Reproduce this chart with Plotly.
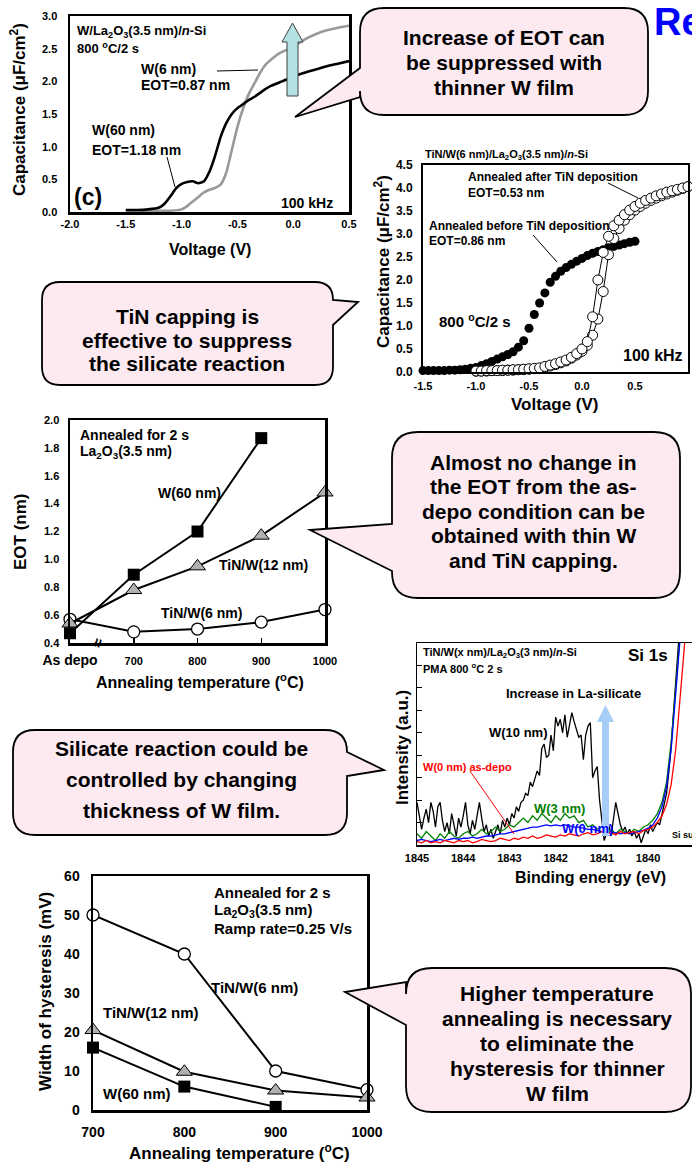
import plotly.graph_objects as go

W, H = 692, 1162
FONT = "Liberation Sans"

# ---------------- Panel (c): C-V, W thickness ----------------
cv1_v_w60 = [-1.50, -1.40, -1.30, -1.20, -1.15, -1.10, -1.05, -1.00,
             -0.95, -0.90, -0.85, -0.80, -0.75, -0.70, -0.65, -0.60, -0.55, -0.50,
             -0.45, -0.40, -0.35, -0.30, -0.25, -0.20,
             -0.10, 0.00, 0.10, 0.20, 0.30, 0.40, 0.50]
cv1_c_w60 = [0.03, 0.03, 0.04, 0.07, 0.13, 0.24, 0.36, 0.43,
             0.46, 0.47, 0.44, 0.47, 0.62, 0.86, 1.15, 1.36, 1.50, 1.59,
             1.65, 1.71, 1.76, 1.82, 1.88, 1.93,
             2.00, 2.07, 2.13, 2.18, 2.23, 2.27, 2.31]
cv1_v_w6 = [-1.50, -1.30, -1.10, -1.00, -0.95, -0.90, -0.85, -0.80, -0.75, -0.70,
            -0.65, -0.60, -0.55, -0.50, -0.45, -0.40, -0.35, -0.30, -0.25, -0.20,
            -0.15, -0.10, 0.00, 0.10, 0.20, 0.30, 0.40, 0.50]
cv1_c_w6 = [0.02, 0.02, 0.02, 0.04, 0.09, 0.16, 0.23, 0.30, 0.34, 0.37,
            0.42, 0.60, 0.95, 1.30, 1.58, 1.80, 1.96, 2.12, 2.25, 2.33,
            2.40, 2.45, 2.53, 2.64, 2.72, 2.78, 2.82, 2.85]
cv1_xticks = [-2.0, -1.5, -1.0, -0.5, 0.0, 0.5]
cv1_xlabels = ["-2.0", "-1.5", "-1.0", "-0.5", "0.0", "0.5"]
cv1_yticks = [0.0, 0.5, 1.0, 1.5, 2.0, 2.5, 3.0]
cv1_ylabels = ["0.0", "0.5", "1.0", "1.5", "2.0", "2.5", "3.0"]

# ---------------- C-V with TiN capping ----------------
cv2_v_before = [-1.50, -1.45, -1.40, -1.35, -1.30, -1.25, -1.20, -1.15, -1.10, -1.05,
                -1.00, -0.95, -0.90, -0.85, -0.80, -0.75, -0.70, -0.65, -0.60, -0.55,
                -0.50, -0.45, -0.40, -0.35, -0.30, -0.25, -0.20, -0.15, -0.10, -0.05,
                0.00, 0.05, 0.10, 0.15, 0.20, 0.25, 0.30, 0.35, 0.40, 0.45, 0.50]
cv2_c_before = [0.03, 0.03, 0.03, 0.03, 0.03, 0.04, 0.04, 0.05, 0.06, 0.08,
                0.10, 0.14, 0.18, 0.23, 0.28, 0.33, 0.38, 0.44, 0.54, 0.68,
                0.95, 1.25, 1.50, 1.72, 1.95, 2.08, 2.19, 2.27, 2.34, 2.41,
                2.47, 2.53, 2.58, 2.62, 2.66, 2.70, 2.73, 2.76, 2.79, 2.82, 2.84]
cv2_v_after = [-1.00, -0.95, -0.90, -0.85, -0.80, -0.75, -0.70, -0.65, -0.60, -0.55,
               -0.50, -0.45, -0.40, -0.35, -0.30, -0.25, -0.20, -0.15, -0.10, -0.05,
               0.00, 0.05, 0.10, 0.15, 0.20, 0.25, 0.30, 0.35, 0.40, 0.45,
               0.50, 0.55, 0.60, 0.65, 0.70, 0.75, 0.80, 0.85, 0.90, 0.95, 1.00]
cv2_c_after_up = [0.02, 0.02, 0.03, 0.03, 0.03, 0.04, 0.04, 0.05, 0.05, 0.06,
                  0.07, 0.08, 0.09, 0.12, 0.15, 0.18, 0.22, 0.26, 0.32, 0.40,
                  0.50, 0.66, 1.20, 2.00, 2.60, 2.95, 3.18, 3.30, 3.42, 3.52,
                  3.60, 3.67, 3.73, 3.78, 3.83, 3.87, 3.91, 3.94, 3.97, 4.00, 4.03]
cv2_c_after_down = [0.02, 0.02, 0.02, 0.03, 0.03, 0.03, 0.04, 0.04, 0.05, 0.05,
                    0.06, 0.07, 0.08, 0.10, 0.13, 0.16, 0.20, 0.24, 0.30, 0.37,
                    0.45, 0.58, 0.80, 1.15, 1.75, 2.55, 2.90, 3.12, 3.30, 3.42,
                    3.52, 3.60, 3.67, 3.73, 3.78, 3.83, 3.87, 3.91, 3.95, 3.99, 4.03]
cv2_xticks = [-1.5, -1.0, -0.5, 0.0, 0.5, 1.0]
cv2_xlabels = ["-1.5", "-1.0", "-0.5", "0.0", "0.5", "1.0"]
cv2_yticks = [0.0, 0.5, 1.0, 1.5, 2.0, 2.5, 3.0, 3.5, 4.0, 4.5]
cv2_ylabels = ["0.0", "0.5", "1.0", "1.5", "2.0", "2.5", "3.0", "3.5", "4.0", "4.5"]

# ---------------- EOT vs annealing temperature ----------------
eot_temp = [600, 700, 800, 900, 1000]
eot_ticktext = ["<span style='font-size:14px'>As depo</span>", "700", "800", "900", "1000"]
eot_w60 = [0.47, 0.89, 1.20, 1.87]
eot_tin_w12 = [0.54, 0.78, 0.95, 1.17, 1.48]
eot_tin_w6 = [0.57, 0.48, 0.50, 0.55, 0.64]
eot_yticks = [0.4, 0.6, 0.8, 1.0, 1.2, 1.4, 1.6, 1.8, 2.0]
eot_ylabels = ["0.4", "0.6", "0.8", "1.0", "1.2", "1.4", "1.6", "1.8", "2.0"]

# ---------------- XPS Si 1s ----------------
xps_e = [1845.0, 1844.9, 1844.8, 1844.7, 1844.6, 1844.5, 1844.4, 1844.3, 1844.2, 1844.1,
         1844.0, 1843.9, 1843.8, 1843.7, 1843.6, 1843.5, 1843.4, 1843.3, 1843.2, 1843.1,
         1843.0, 1842.9, 1842.8, 1842.7, 1842.6, 1842.5, 1842.4, 1842.3, 1842.2, 1842.1,
         1842.0, 1841.9, 1841.8, 1841.7, 1841.6, 1841.5, 1841.4, 1841.3, 1841.2, 1841.1,
         1841.0, 1840.9, 1840.8, 1840.7, 1840.6, 1840.5, 1840.4, 1840.3, 1840.2, 1840.1,
         1840.0, 1839.9, 1839.8, 1839.7, 1839.6, 1839.5, 1839.4, 1839.3, 1839.2]
xps_w3 = [0.5, 0.3, 0.6, 0.4, 0.2, 0.5, 0.3, 0.6, 0.4, 0.3,
          0.5, 0.6, 0.4, 0.5, 0.7, 0.5, 0.6, 0.8, 0.6, 0.7,
          0.9, 0.8, 1.0, 1.2, 1.0, 1.3, 1.1, 1.4, 1.2, 1.0,
          1.3, 1.1, 1.4, 1.2, 1.3, 1.0, 1.1, 0.8, 0.9, 0.7,
          0.8, 0.6, 0.7, 0.5, 0.7, 0.6, 0.5, 0.7, 0.6, 0.8,
          0.9, 1.1, 1.4, 1.9, 2.8, 4.6, 7.0, 9.6, 12.0]
xps_w0 = [0.2, 0.25, 0.2, 0.15, 0.2, 0.25, 0.2, 0.25, 0.3, 0.25,
          0.3, 0.3, 0.35, 0.3, 0.35, 0.4, 0.4, 0.45, 0.5, 0.5,
          0.55, 0.6, 0.65, 0.7, 0.75, 0.8, 0.8, 0.85, 0.9, 0.85,
          0.9, 0.85, 0.9, 0.85, 0.8, 0.8, 0.75, 0.7, 0.7, 0.65,
          0.6, 0.6, 0.55, 0.55, 0.5, 0.55, 0.5, 0.55, 0.6, 0.65,
          0.75, 0.9, 1.2, 1.7, 2.6, 4.3, 6.8, 9.5, 12.0]
xps_w0_asdepo = [0.15, 0.1, 0.2, 0.1, 0.15, 0.1, 0.2, 0.15, 0.1, 0.2,
                 0.15, 0.2, 0.1, 0.15, 0.25, 0.2, 0.15, 0.2, 0.3, 0.25,
                 0.2, 0.3, 0.25, 0.35, 0.3, 0.4, 0.3, 0.35, 0.45, 0.4,
                 0.35, 0.45, 0.4, 0.5, 0.45, 0.4, 0.5, 0.55, 0.45, 0.5,
                 0.6, 0.5, 0.55, 0.45, 0.6, 0.5, 0.55, 0.6, 0.5, 0.65,
                 0.7, 0.8, 1.0, 1.3, 1.8, 2.7, 4.3, 6.6, 9.2]
xps_e_w10 = [1845.00, 1844.95, 1844.90, 1844.85, 1844.80, 1844.75, 1844.70, 1844.65, 1844.60, 1844.55,
             1844.50, 1844.45, 1844.40, 1844.35, 1844.30, 1844.25, 1844.20, 1844.15, 1844.10, 1844.05,
             1844.00, 1843.95, 1843.90, 1843.85, 1843.80, 1843.75, 1843.70, 1843.65, 1843.60, 1843.55,
             1843.50, 1843.45, 1843.40, 1843.35, 1843.30, 1843.25, 1843.20, 1843.15, 1843.10, 1843.05,
             1843.00, 1842.95, 1842.90, 1842.85, 1842.80, 1842.75, 1842.70, 1842.65, 1842.60, 1842.55,
             1842.50, 1842.45, 1842.40, 1842.35, 1842.30, 1842.25, 1842.20, 1842.15, 1842.10, 1842.05,
             1842.00, 1841.95, 1841.90, 1841.85, 1841.80, 1841.75, 1841.70, 1841.65, 1841.60, 1841.55,
             1841.50, 1841.45, 1841.40, 1841.35, 1841.30, 1841.25, 1841.20, 1841.15, 1841.10, 1841.05,
             1841.00, 1840.95, 1840.90, 1840.85, 1840.80, 1840.75, 1840.70, 1840.65, 1840.60, 1840.55,
             1840.50, 1840.45, 1840.40, 1840.35, 1840.30, 1840.25, 1840.20, 1840.15, 1840.10, 1840.05,
             1840.00, 1839.95, 1839.90, 1839.85, 1839.80, 1839.75, 1839.70, 1839.65, 1839.60, 1839.55,
             1839.50, 1839.45, 1839.40, 1839.35, 1839.30, 1839.20]
xps_w10 = [1.9, 1.3, 0.7, 1.2, 1.6, 1.0, 1.9, 1.5, 0.8, 1.7,
           1.9, 1.1, 0.6, 1.0, 0.5, 1.4, 0.9, 0.4, 1.2, 0.8,
           1.3, 1.9, 0.9, 0.5, 1.1, 0.7, 1.3, 1.9, 1.2, 0.6,
           0.9, 0.4, 0.7, 0.3, 0.6, 0.9, 0.5, 1.1, 0.8, 1.2,
           0.9, 1.4, 1.2, 1.7, 1.5, 1.9, 2.0, 2.3, 2.2, 2.8,
           2.6, 3.0, 3.3, 3.1, 4.3, 4.5, 3.9, 4.0, 4.9, 4.2,
           5.7, 5.3, 5.6, 5.0, 5.8, 4.8, 5.4, 5.9, 5.5, 5.2,
           4.8, 4.9, 3.8, 4.9, 5.3, 5.45, 3.0, 3.3, 3.5, 2.0,
           1.2, 0.2, 0.5, 0.9, 0.4, 1.2, 1.9, 1.4, 0.9, 0.6,
           0.8, 0.5, 0.7, 0.4, 0.6, 0.3, 0.5, 0.1, 0.4, 0.7,
           0.5, 0.9, 0.6, 0.8, 1.0, 0.9, 1.4, 1.8, 2.3, 3.3,
           4.4, 5.9, 7.4, 9.0, 10.5, 13.0]
xps_xticks = [1845, 1844, 1843, 1842, 1841, 1840]
xps_xlabels = ["1845", "1844", "1843", "1842", "1841", "1840"]

# ---------------- Hysteresis ----------------
hys_temp = [700, 800, 900, 1000]
hys_tin_w6 = [50, 40, 10, 5.2]
hys_tin_w12 = [20.5, 9.8, 5.0, 3.2]
hys_w60 = [16, 6, 0.8]
hys_yticks = [0, 10, 20, 30, 40, 50, 60]
hys_xticks = [700, 800, 900, 1000]


def xd(a, b):
    return [a / W, b / W]


def yd(top, bottom):
    return [1 - bottom / H, 1 - top / H]


def axis(domain, rng, lw, tsize, anchor, **kw):
    d = dict(domain=domain, range=rng, anchor=anchor, showline=True, mirror=True,
             linecolor="black", linewidth=lw, showgrid=False, zeroline=False,
             ticks="", fixedrange=True, automargin=False,
             tickfont=dict(family=FONT, size=tsize, color="black", weight="bold"))
    d.update(kw)
    return d


fig = go.Figure()

# Panel 1 traces
fig.add_trace(go.Scatter(x=cv1_v_w6, y=cv1_c_w6, mode="lines", xaxis="x", yaxis="y",
                         line=dict(color="#999999", width=2.6, shape="spline", smoothing=0.5)))
fig.add_trace(go.Scatter(x=cv1_v_w60, y=cv1_c_w60, mode="lines", xaxis="x", yaxis="y",
                         line=dict(color="black", width=2.6, shape="spline", smoothing=0.5)))

# Panel 2 traces
fig.add_trace(go.Scatter(x=cv2_v_before, y=cv2_c_before, mode="markers", xaxis="x2", yaxis="y2",
                         cliponaxis=False, marker=dict(symbol="circle", size=9, color="black")))
for cvals in (cv2_c_after_down, cv2_c_after_up):
    fig.add_trace(go.Scatter(x=cv2_v_after, y=cvals, mode="lines+markers", xaxis="x2", yaxis="y2",
                             cliponaxis=False, line=dict(color="black", width=1),
                             marker=dict(symbol="circle", size=10, color="white",
                                         line=dict(color="black", width=1))))

# Panel 3 traces
fig.add_trace(go.Scatter(x=eot_temp, y=eot_tin_w6, mode="lines+markers", xaxis="x3", yaxis="y3",
                         cliponaxis=False, line=dict(color="black", width=2),
                         marker=dict(symbol="circle", size=12, color="white",
                                     line=dict(color="black", width=1.3))))
fig.add_trace(go.Scatter(x=eot_temp, y=eot_tin_w12, mode="lines+markers", xaxis="x3", yaxis="y3",
                         cliponaxis=False, line=dict(color="black", width=2),
                         marker=dict(symbol="triangle-up", size=14, color="#b0b0b0",
                                     line=dict(color="black", width=1))))
fig.add_trace(go.Scatter(x=eot_temp[:4], y=eot_w60, mode="lines+markers", xaxis="x3", yaxis="y3",
                         cliponaxis=False, line=dict(color="black", width=2),
                         marker=dict(symbol="square", size=12, color="black")))

# Panel 4 traces (XPS)
fig.add_trace(go.Scatter(x=xps_e_w10, y=xps_w10, mode="lines", xaxis="x4", yaxis="y4",
                         line=dict(color="black", width=1.3)))
fig.add_trace(go.Scatter(x=xps_e, y=xps_w3, mode="lines", xaxis="x4", yaxis="y4",
                         line=dict(color="#008000", width=1.3)))
fig.add_trace(go.Scatter(x=xps_e, y=xps_w0, mode="lines", xaxis="x4", yaxis="y4",
                         line=dict(color="#0000ff", width=1.3)))
fig.add_trace(go.Scatter(x=xps_e, y=xps_w0_asdepo, mode="lines", xaxis="x4", yaxis="y4",
                         line=dict(color="#ff0000", width=1.3)))

# Panel 5 traces
fig.add_trace(go.Scatter(x=hys_temp, y=hys_tin_w6, mode="lines+markers", xaxis="x5", yaxis="y5",
                         cliponaxis=False, line=dict(color="black", width=2),
                         marker=dict(symbol="circle", size=12, color="white",
                                     line=dict(color="black", width=1.3))))
fig.add_trace(go.Scatter(x=hys_temp, y=hys_tin_w12, mode="lines+markers", xaxis="x5", yaxis="y5",
                         cliponaxis=False, line=dict(color="black", width=2),
                         marker=dict(symbol="triangle-up", size=14, color="#b0b0b0",
                                     line=dict(color="black", width=1))))
fig.add_trace(go.Scatter(x=hys_temp[:3], y=hys_w60, mode="lines+markers", xaxis="x5", yaxis="y5",
                         cliponaxis=False, line=dict(color="black", width=2),
                         marker=dict(symbol="square", size=12, color="black")))

# pixel overlay (for annotations & callouts)
fig.add_trace(go.Scatter(x=[None], y=[None], xaxis="x6", yaxis="y6", hoverinfo="skip"))


def callout(x0, y0, x1, y1, r, side, pa, pb, tip):
    tx, ty = tip
    p = f"M {x0 + r},{y0} L {x1 - r},{y0} Q {x1},{y0} {x1},{y0 + r} "
    if side == "right":
        p += f"L {x1},{pa} L {tx},{ty} L {x1},{pb} "
    p += f"L {x1},{y1 - r} Q {x1},{y1} {x1 - r},{y1} L {x0 + r},{y1} Q {x0},{y1} {x0},{y1 - r} "
    if side == "left":
        p += f"L {x0},{pb} L {tx},{ty} L {x0},{pa} "
    p += f"L {x0},{y0 + r} Q {x0},{y0} {x0 + r},{y0} Z"
    return dict(type="path", path=p, xref="x6", yref="y6", fillcolor="#fde9f0",
                line=dict(color="black", width=1.8), layer="above")


def line(x0, y0, x1, y1, color="black", width=1):
    return dict(type="line", x0=x0, y0=y0, x1=x1, y1=y1, xref="x6", yref="y6",
                line=dict(color=color, width=width))


shapes = [
    callout(360, 8, 648, 115, 24, "left", 68, 97, (295, 117)),
    callout(42, 282, 333, 385, 18, "right", 300, 325, (358, 302)),
    callout(392, 432, 680, 598, 26, "left", 524, 571, (310, 530)),
    callout(13, 730, 347, 835, 22, "right", 752, 776, (384, 770)),
    callout(406, 968, 691, 1112, 26, "left", 982, 1025, (345, 992)),
    # arrows
    dict(type="path", xref="x6", yref="y6",
         path="M 287,96 L 287,42 L 282,42 L 292.5,23 L 303,42 L 298,42 L 298,96 Z",
         fillcolor="#b4e1e1", line=dict(color="#404040", width=1)),
    dict(type="path", xref="x6", yref="y6",
         path="M 602,836 L 602,722 L 597,722 L 605.5,705 L 614,722 L 609,722 L 609,836 Z",
         fillcolor="#a6cdf5", line=dict(width=0)),
    # leader lines
    line(217, 71, 258, 70),
    line(167, 157, 175, 187),
    line(608, 183, 638, 198),
    line(533, 235, 557, 262),
    line(470, 771, 514, 834, color="#ff0000"),
]


def txt(x, y, s, size, anchor="left", color="black", angle=0):
    return dict(x=x, y=y, xref="x6", yref="y6", text=s, showarrow=False, xanchor=anchor,
                yanchor="middle", textangle=angle,
                font=dict(family=FONT, size=size, color=color, weight="bold"))


ann = []
# callout texts
for lines_, cx, ys in [
    (["Increase of EOT can", "be suppressed with", "thinner W film"], 504, [37, 62, 87]),
    (["TiN capping is", "effective to suppress", "the silicate reaction"], 187, [316, 340, 363]),
    (["Almost no change in", "the EOT from the as-", "depo condition can be",
      "obtained with thin W", "and TiN capping."], 533, [462, 486, 511, 535, 560]),
    (["Silicate reaction could be", "controlled by changing", "thickness of W film."], 181, [748, 779, 810]),
    (["Higher temperature", "annealing is necessary", "to eliminate the",
      "hysteresis for thinner", "W film"], 557, [993, 1018, 1043, 1068, 1093]),
]:
    for s, yy in zip(lines_, ys):
        ann.append(txt(cx, yy, s, 21, anchor="center"))

ann.append(txt(652, 22, "Re", 38, color="#0000ff"))

# Panel 1 texts
ann += [
    txt(18, 110, "Capacitance (μF/cm<sup>2</sup>)", 17, anchor="center", angle=-90),
    txt(210, 249, "Voltage (V)", 16, anchor="center"),
    txt(75, 31, "W/La<sub>2</sub>O<sub>3</sub>(3.5 nm)/<i>n</i>-Si", 13),
    txt(75, 48, "800 <sup>o</sup>C/2 s", 13),
    txt(139, 69, "W(6 nm)", 14),
    txt(139, 85, "EOT=0.87 nm", 14),
    txt(90, 130, "W(60 nm)", 14),
    txt(90, 150, "EOT=1.18 nm", 14),
    txt(72, 197, "(c)", 23),
    txt(335, 203, "100 kHz", 14, anchor="right"),
]
# Panel 2 texts
ann += [
    txt(423, 155, "TiN/W(6 nm)/La<sub>2</sub>O<sub>3</sub>(3.5 nm)/<i>n</i>-Si", 11),
    txt(382, 262, "Capacitance (μF/cm<sup>2</sup>)", 17, anchor="center", angle=-90),
    txt(555, 404, "Voltage (V)", 17, anchor="center"),
    txt(466, 177, "Annealed after TiN deposition", 12),
    txt(466, 193, "EOT=0.53 nm", 12),
    txt(427, 226, "Annealed before TiN deposition", 12),
    txt(427, 241, "EOT=0.86 nm", 12),
    txt(437, 320, "800 <sup>o</sup>C/2 s", 15),
    txt(685, 355, "100 kHz", 16, anchor="right"),
]
# Panel 3 texts
ann += [
    txt(20, 532, "EOT (nm)", 17, anchor="center", angle=-90),
    txt(200, 681, "Annealing temperature (<sup>o</sup>C)", 16, anchor="center"),
    txt(78, 435, "Annealed for 2 s", 14),
    txt(78, 452, "La<sub>2</sub>O<sub>3</sub>(3.5 nm)", 14),
    txt(156, 493, "W(60 nm)", 14),
    txt(217, 565, "TiN/W(12 nm)", 14),
    txt(159, 613, "TiN/W(6 nm)", 14),
    txt(97, 643, "≈", 16, anchor="center", angle=-75),
]
# Panel 4 texts
ann += [
    txt(402, 748, "Intensity (a.u.)", 17, anchor="center", angle=-90),
    txt(590, 877, "Binding energy (eV)", 16, anchor="center"),
    txt(421, 653, "TiN/W(x nm)/La<sub>2</sub>O<sub>3</sub>(3 nm)/<i>n</i>-Si", 11),
    txt(421, 668, "PMA 800 <sup>o</sup>C 2 s", 11),
    txt(626, 655, "Si 1s", 17),
    txt(504, 693, "Increase in La-silicate", 13),
    txt(487, 732, "W(10 nm)", 13),
    txt(421, 767, "W(0 nm) as-depo", 11, color="#ff0000"),
    txt(532, 808, "W(3 nm)", 13, color="#008000"),
    txt(560, 828, "W(0 nm)", 13, color="#0000ff"),
    txt(670, 835, "Si sub.", 9),
]
# Panel 5 texts
ann += [
    txt(45, 992, "Width of hysteresis (mV)", 17, anchor="center", angle=-90),
    txt(239, 1152, "Annealing temperature (<sup>o</sup>C)", 17, anchor="center"),
    txt(212, 892, "Annealed for 2 s", 15),
    txt(212, 910, "La<sub>2</sub>O<sub>3</sub>(3.5 nm)", 15),
    txt(212, 928, "Ramp rate=0.25 V/s", 15),
    txt(209, 987, "TiN/W(6 nm)", 15),
    txt(101, 1012, "TiN/W(12 nm)", 15),
    txt(101, 1093, "W(60 nm)", 15),
]

fig.update_layout(
    width=W, height=H, margin=dict(l=0, r=0, t=0, b=0, pad=0, autoexpand=False),
    paper_bgcolor="white", plot_bgcolor="rgba(0,0,0,0)", showlegend=False,
    xaxis=axis(xd(70, 349), [-2.0, 0.5], 2.5, 11, "y", tickvals=cv1_xticks, ticktext=cv1_xlabels),
    yaxis=axis(yd(16, 212), [0, 3.0], 2.5, 11, "x", tickvals=cv1_yticks, ticktext=cv1_ylabels,
               ticklabelstandoff=8),
    xaxis2=axis(xd(423, 688), [-1.5, 1.0], 2, 11, "y2", tickvals=cv2_xticks, ticktext=cv2_xlabels,
                ticklabelstandoff=3),
    yaxis2=axis(yd(165, 372), [0, 4.5], 2, 12, "x2", tickvals=cv2_yticks, ticktext=cv2_ylabels,
                ticklabelstandoff=6),
    xaxis3=axis(xd(70, 325), [600, 1000], 2.5, 11, "y3", tickvals=eot_temp, ticktext=eot_ticktext,
                ticks="inside", ticklen=5, tickwidth=1.5, tickcolor="black", ticklabelstandoff=6),
    yaxis3=axis(yd(420, 643), [0.4, 2.0], 2.5, 11, "x3", tickvals=eot_yticks, ticktext=eot_ylabels,
                ticklabelstandoff=6),
    xaxis4=axis(xd(417, 692), [1845, 1839.05], 1.5, 11, "y4", tickvals=xps_xticks,
                ticktext=xps_xlabels, ticklabelstandoff=2),
    yaxis4=axis(yd(643, 845), [0, 9], 1.5, 11, "x4", mirror=False, showticklabels=False,
                ticks="inside", ticklen=5, tickwidth=1, tickcolor="black", dtick=1, tick0=0),
    xaxis5=axis(xd(93, 367), [700, 1000], 2.5, 14, "y5", tickvals=hys_xticks, ticklabelstandoff=8),
    yaxis5=axis(yd(876, 1110), [0, 60], 2.5, 14, "x5", tickvals=hys_yticks, ticklabelstandoff=8),
    xaxis6=dict(domain=[0, 1], range=[0, W], visible=False, fixedrange=True, anchor="y6",
                automargin=False),
    yaxis6=dict(domain=[0, 1], range=[H, 0], visible=False, fixedrange=True, anchor="x6",
                automargin=False),
    shapes=shapes,
    annotations=ann,
)

fig.write_html("out.html",
               config={"displayModeBar": False, "staticPlot": True},
               post_script="document.body.style.margin='0px';document.body.style.padding='0px';"
                           "document.body.style.overflow='hidden';")
